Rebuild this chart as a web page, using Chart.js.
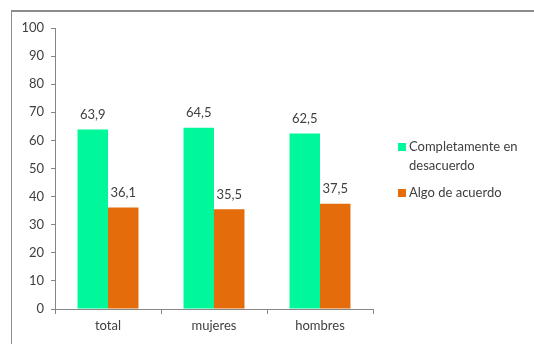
<!DOCTYPE html>
<html>
<head>
<meta charset="utf-8">
<script src="https://cdn.jsdelivr.net/npm/chart.js@4"></script>
<style>
  body { margin: 0; background: #fff; }
  #wrap { position: relative; width: 534px; height: 344px; }
  #frame { position: absolute; left: 11px; top: 10px; right: 0; bottom: 0;
           border-left: 1px solid #8c8c8c; border-top: 2px solid #8c8c8c; pointer-events: none; }
</style>
</head>
<body>
<div id="wrap">
  <canvas id="barChart" width="534" height="344"></canvas>
  <div id="frame"></div>
</div>
<script>
// Data
var categories = ['total', 'mujeres', 'hombres'];
var desacuerdo = [63.9, 64.5, 62.5];
var deAcuerdo = [36.1, 35.5, 37.5];
var seriesNames = [['Completamente en', 'desacuerdo'], ['Algo de acuerdo']];
var yTicks = [0, 10, 20, 30, 40, 50, 60, 70, 80, 90, 100];

var textColor = '#404040';
var font = 'Lato, "Open Sans", sans-serif';

// Value labels above each bar
var valueLabels = {
  id: 'valueLabels',
  afterDatasetsDraw: function(chart) {
    var ctx = chart.ctx;
    ctx.save();
    ctx.font = '13px ' + font;
    ctx.fillStyle = textColor;
    ctx.textAlign = 'center';
    ctx.textBaseline = 'bottom';
    chart.data.datasets.forEach(function(ds, i) {
      chart.getDatasetMeta(i).data.forEach(function(bar, j) {
        ctx.fillText(ds.data[j].toFixed(1).replace('.', ','), bar.x, bar.y - 8);
      });
    });
    ctx.restore();
  }
};

// Legend on the right, with the long label wrapped like the original
var sideLegend = {
  id: 'sideLegend',
  afterDraw: function(chart) {
    var ctx = chart.ctx;
    var x = 398, y = 147;
    ctx.save();
    ctx.font = '13px ' + font;
    ctx.textBaseline = 'middle';
    chart.data.datasets.forEach(function(ds, i) {
      ctx.fillStyle = ds.backgroundColor;
      ctx.fillRect(x, y - 4, 8, 8);
      ctx.fillStyle = textColor;
      seriesNames[i].forEach(function(line, k) {
        ctx.fillText(line, x + 11, y + k * 19);
      });
      y += seriesNames[i].length * 19 + 8;
    });
    ctx.restore();
  }
};

new Chart(document.getElementById('barChart').getContext('2d'), {
  type: 'bar',
  data: {
    labels: categories,
    datasets: [{
      label: seriesNames[0].join(' '),
      data: desacuerdo,
      backgroundColor: '#00f79a'
    }, {
      label: seriesNames[1].join(' '),
      data: deAcuerdo,
      backgroundColor: '#e46c0a'
    }]
  },
  options: {
    responsive: false,
    animation: false,
    layout: { padding: { top: 28, right: 161, left: 0, bottom: 0 } },
    datasets: { bar: { barPercentage: 1, categoryPercentage: 0.575 } },
    plugins: { legend: { display: false }, tooltip: { enabled: false } },
    scales: {
      x: {
        grid: { drawOnChartArea: false, tickLength: 5, color: '#868686' },
        border: { color: '#868686' },
        ticks: { color: textColor, font: { family: font, size: 13 }, padding: 4 },
        afterFit: function(scale) { scale.height = 35; }
      },
      y: {
        min: 0,
        max: 100,
        afterBuildTicks: function(scale) {
          scale.ticks = yTicks.map(function(v) { return { value: v }; });
        },
        grid: { drawOnChartArea: false, tickLength: 4, color: '#868686' },
        border: { color: '#868686' },
        ticks: { color: textColor, font: { family: font, size: 13 }, padding: 7 },
        afterFit: function(scale) { scale.width = 55; }
      }
    }
  },
  plugins: [valueLabels, sideLegend]
});
</script>
</body>
</html>
